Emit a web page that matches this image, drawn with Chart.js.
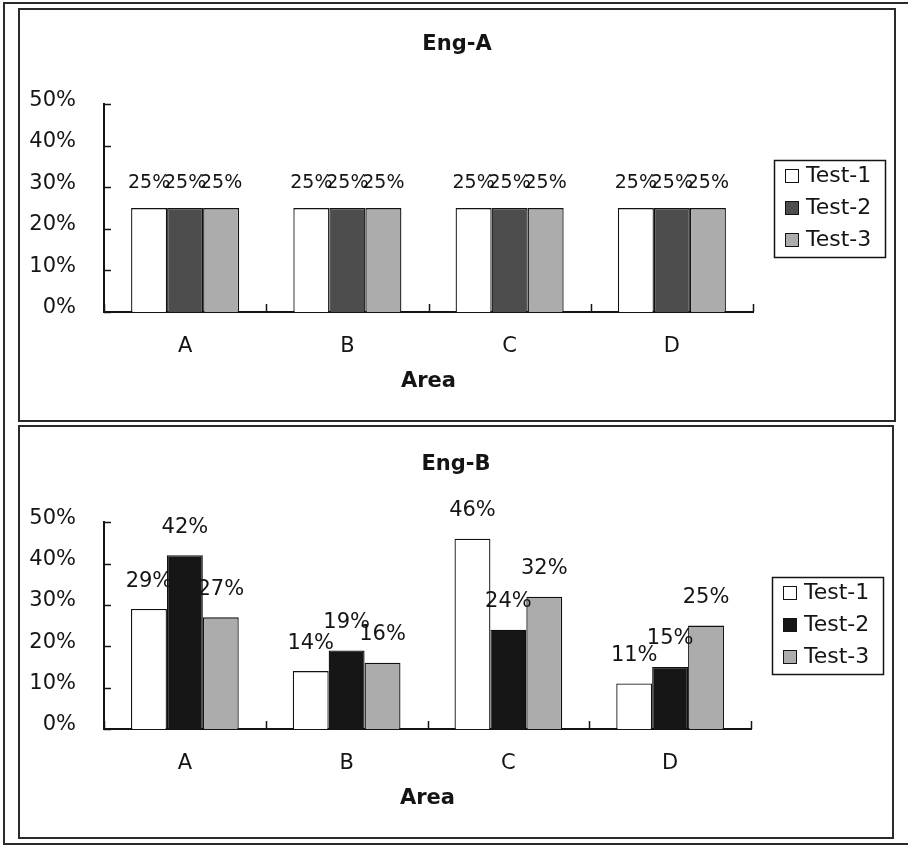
<!DOCTYPE html>
<html>
<head>
<meta charset="utf-8">
<title>Eng-A / Eng-B</title>
<script src="https://cdn.jsdelivr.net/npm/chart.js@4.4.1/dist/chart.umd.min.js"></script>
<style>
  html, body { margin: 0; padding: 0; background: #fff; }
  body { width: 908px; height: 845px; position: relative; overflow: hidden; }
  .frame { position: absolute; left: 3px; top: 2px; width: 1000px; height: 839px; border: 2px solid #2b2b2b; }
  .panel { position: absolute; left: 18px; border: 2px solid #2b2b2b; background: #fff; }
  #boxA { top: 8px; width: 874px; height: 410px; }
  #boxB { top: 425px; width: 872px; height: 410px; }
  canvas { display: block; }
</style>
</head>
<body>
<div class="frame"></div>
<div class="panel" id="boxA"><canvas id="chartA" width="874" height="410"></canvas></div>
<div class="panel" id="boxB"><canvas id="chartB" width="872" height="410"></canvas></div>

<script>
// ---- data ----
const categories = ['A', 'B', 'C', 'D'];
const seriesNames = ['Test-1', 'Test-2', 'Test-3'];

const engA_test1 = [25, 25, 25, 25];
const engA_test2 = [25, 25, 25, 25];
const engA_test3 = [25, 25, 25, 25];

const engB_test1 = [29, 14, 46, 11];
const engB_test2 = [42, 19, 24, 15];
const engB_test3 = [27, 16, 32, 25];

const yMin = 0, yMax = 50, yStep = 10;   // y ticks 0% .. 50%
const axisTitle = 'Area';

// ---- shared look ----
const FONT = '"DejaVu Sans", Verdana, sans-serif';
const INK = '#141414';
Chart.defaults.font.family = FONT;
Chart.defaults.color = INK;

// short tick marks pointing into the plot area
const innerTicks = {
  id: 'innerTicks',
  afterDraw(chart) {
    const { ctx, chartArea } = chart;
    const xs = chart.scales.x, ys = chart.scales.y;
    ctx.save();
    ctx.strokeStyle = INK;
    ctx.lineWidth = 1.5;
    ctx.beginPath();
    ys.ticks.forEach((t, i) => {
      const py = Math.round(ys.getPixelForTick(i)) + 0.5;
      ctx.moveTo(chartArea.left, py);
      ctx.lineTo(chartArea.left + 7, py);
    });
    for (let i = 0; i <= xs.ticks.length; i++) {
      const px = Math.round(xs.getPixelForValue(i - 0.5)) + 0.5;
      ctx.moveTo(px, chartArea.bottom);
      ctx.lineTo(px, chartArea.bottom - 8);
    }
    ctx.stroke();
    ctx.restore();
  }
};

// percentage label above every bar
const valueLabels = {
  id: 'valueLabels',
  afterDatasetsDraw(chart, args, opts) {
    const ctx = chart.ctx;
    ctx.save();
    ctx.font = opts.size + 'px ' + FONT;
    ctx.fillStyle = INK;
    ctx.textAlign = 'center';
    ctx.textBaseline = 'middle';
    chart.data.datasets.forEach((ds, i) => {
      chart.getDatasetMeta(i).data.forEach((bar, j) => {
        ctx.fillText(ds.data[j] + '%', bar.x, bar.y - opts.offset);
      });
    });
    ctx.restore();
  }
};

// framed legend to the right of the plot
const boxLegend = {
  id: 'boxLegend',
  afterDraw(chart, args, opts) {
    const { ctx, chartArea } = chart;
    const left = chartArea.left + chartArea.width + opts.gap;
    const top = (chartArea.top + chartArea.bottom) / 2 - opts.height / 2;
    ctx.save();
    ctx.strokeStyle = INK;
    ctx.lineWidth = 1.5;
    ctx.strokeRect(Math.round(left) + 0.5, Math.round(top) + 0.5, opts.width, opts.height);
    ctx.font = opts.size + 'px ' + FONT;
    ctx.textAlign = 'left';
    ctx.textBaseline = 'alphabetic';
    chart.data.datasets.forEach((ds, i) => {
      const rowTop = Math.round(top) + i * opts.rowGap;
      ctx.fillStyle = ds.backgroundColor;
      ctx.lineWidth = 1;
      ctx.fillRect(Math.round(left) + 11.5, rowTop + 9.5, 13, 13);
      ctx.strokeRect(Math.round(left) + 11.5, rowTop + 9.5, 13, 13);
      ctx.fillStyle = INK;
      ctx.fillText(ds.label, Math.round(left) + 32, rowTop + 21.5);
    });
    ctx.restore();
  }
};

function buildChart(canvasId, titleText, series, colors, label, titlePad) {
  const datasets = series.map((values, i) => ({
    label: seriesNames[i],
    data: values,
    backgroundColor: colors[i],
    borderColor: '#111111',
    borderWidth: 1.3,
    yAxisID: 'y',
    categoryPercentage: 0.666,
    barPercentage: 1.0
  }));

  return new Chart(document.getElementById(canvasId), {
    type: 'bar',
    data: { labels: categories, datasets },
    plugins: [innerTicks, valueLabels, boxLegend],
    options: {
      responsive: false,
      animation: false,
      devicePixelRatio: 1,
      layout: { padding: 0 },
      plugins: {
        legend: { display: false },
        tooltip: { enabled: false },
        title: {
          display: true,
          text: titleText,
          color: INK,
          font: { family: FONT, size: 21, weight: 'bold', lineHeight: 1.2 },
          padding: titlePad
        },
        valueLabels: label,
        boxLegend: { width: 111, height: 97, gap: 21, rowGap: 32, size: 22 }
      },
      scales: {
        x: {
          type: 'category',
          grid: { display: false },
          border: { display: true, color: INK, width: 2 },
          ticks: { color: INK, font: { size: 21 }, padding: 14 },
          title: {
            display: true,
            text: axisTitle,
            color: INK,
            font: { size: 21, weight: 'bold', lineHeight: 1.2 },
            padding: { top: 0, bottom: 26 }
          },
          afterFit(s) { s.height = 108; }
        },
        y: {
          type: 'linear',
          position: 'left',
          min: yMin,
          max: yMax,
          grid: { display: false },
          border: { display: true, color: INK, width: 2 },
          ticks: {
            stepSize: yStep,
            color: INK,
            font: { size: 21 },
            padding: 20,
            labelOffset: -4,
            callback: v => v + '%'
          },
          afterFit(s) { s.width = 84; }
        },
        // empty band on the right that holds the legend
        pad: {
          type: 'linear',
          position: 'right',
          grid: { display: false },
          border: { display: false },
          ticks: { display: false },
          afterFit(s) { s.width = 141; }
        }
      }
    }
  });
}

buildChart('chartA', 'Eng-A',
  [engA_test1, engA_test2, engA_test3],
  ['#ffffff', '#4d4d4d', '#acacac'],
  { size: 19, offset: 25 },
  { top: 22, bottom: 47 });

buildChart('chartB', 'Eng-B',
  [engB_test1, engB_test2, engB_test3],
  ['#ffffff', '#161616', '#acacac'],
  { size: 21, offset: 28 },
  { top: 25, bottom: 45 });
</script>
</body>
</html>
